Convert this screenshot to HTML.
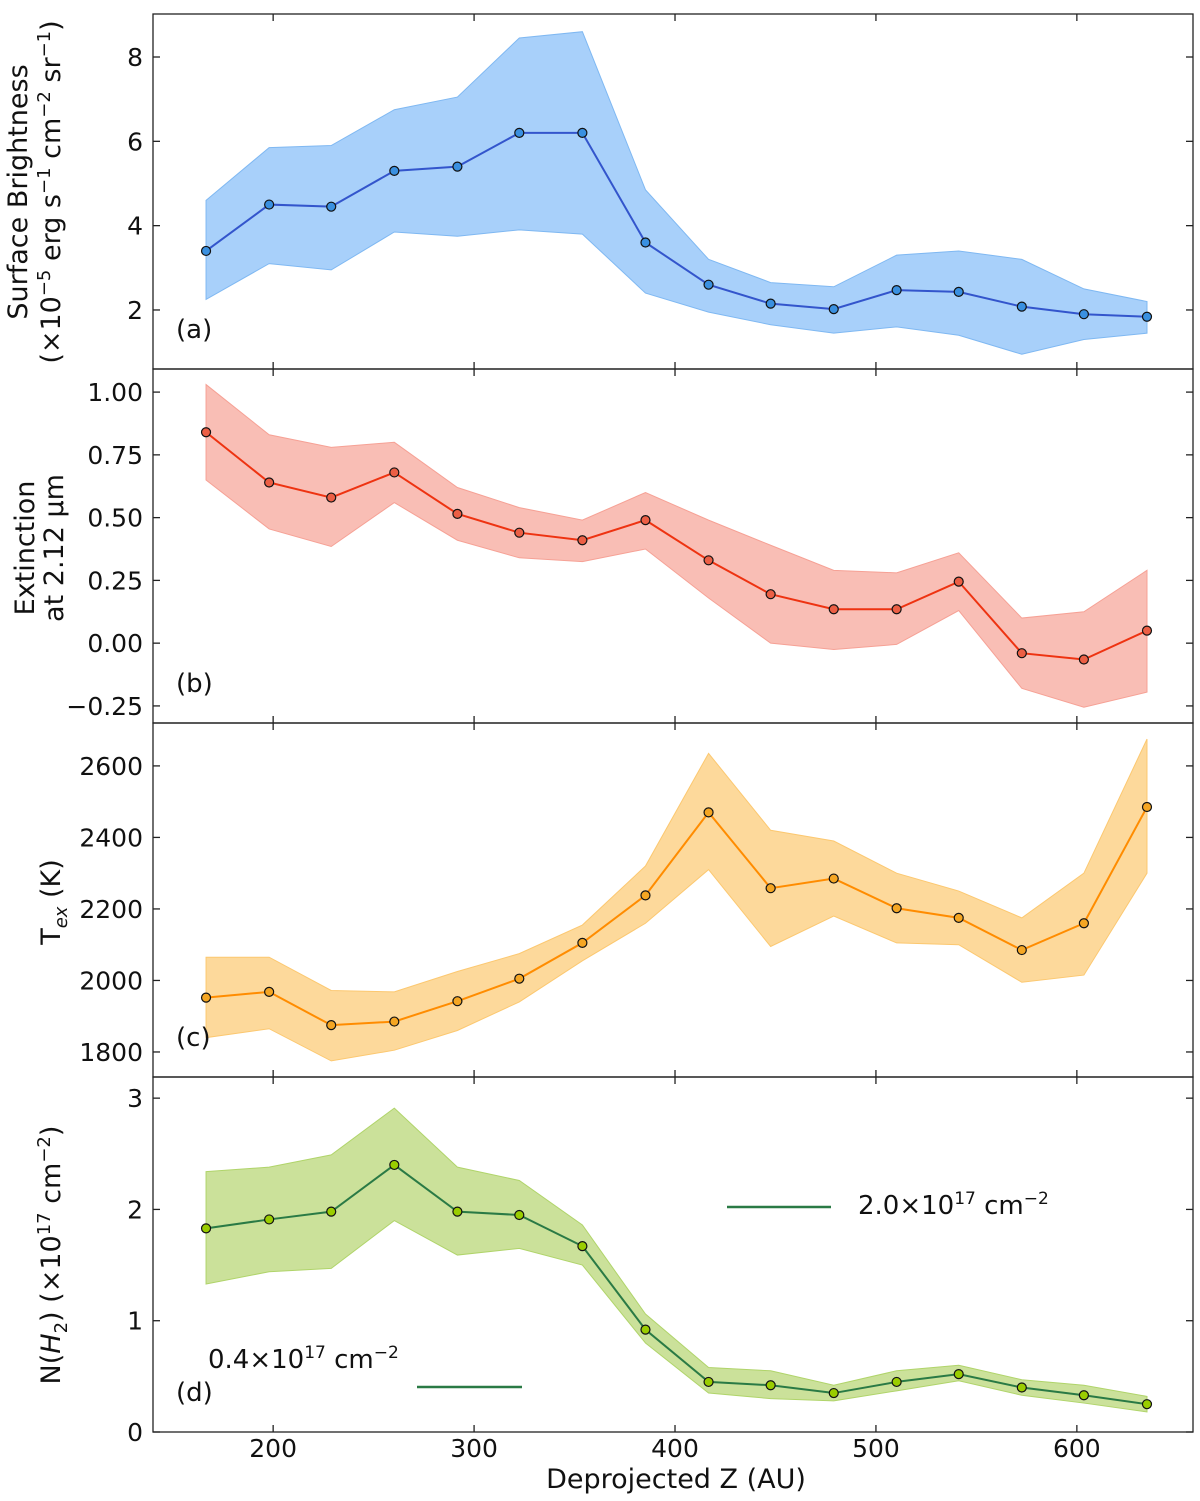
<!DOCTYPE html>
<html><head><meta charset="utf-8">
<style>
html,body{margin:0;padding:0;background:#fff;}
svg{display:block;font-family:"DejaVu Sans","Liberation Sans",sans-serif;}
</style></head>
<body>
<svg id="chart" width="1200" height="1501" viewBox="0 0 1200 1501" xmlns="http://www.w3.org/2000/svg"></svg>
<script>
const zValues=[166.6,198,228.9,260.3,291.7,322.5,353.9,385.3,416.7,447.6,479,510.3,541.2,572.6,603.5,634.9];
const xTicks=[200,300,400,500,600];
const sbVal=[3.4,4.5,4.45,5.3,5.4,6.2,6.2,3.6,2.6,2.15,2.02,2.47,2.43,2.08,1.9,1.84];
const sbUp=[4.6,5.85,5.9,6.75,7.05,8.45,8.6,4.85,3.2,2.65,2.55,3.3,3.4,3.2,2.5,2.2];
const sbLo=[2.25,3.1,2.95,3.85,3.75,3.9,3.8,2.4,1.95,1.65,1.45,1.6,1.4,0.95,1.3,1.45];
const sbTicks=[2,4,6,8];
const exVal=[0.84,0.64,0.58,0.68,0.515,0.44,0.41,0.49,0.33,0.195,0.135,0.135,0.245,-0.04,-0.065,0.05];
const exUp=[1.03,0.83,0.78,0.8,0.62,0.54,0.49,0.6,0.49,0.39,0.29,0.28,0.36,0.1,0.125,0.29];
const exLo=[0.65,0.455,0.385,0.56,0.41,0.34,0.325,0.375,0.18,0.0,-0.025,-0.005,0.13,-0.18,-0.255,-0.195];
const exTicks=[-0.25,0,0.25,0.5,0.75,1.0];
const exTickLabels=["\u22120.25","0.00","0.25","0.50","0.75","1.00"];
const tVal=[1952,1968,1875,1885,1942,2005,2105,2238,2470,2258,2285,2202,2175,2085,2160,2485];
const tUp=[2065,2065,1972,1968,2025,2075,2155,2320,2635,2420,2390,2300,2250,2175,2300,2675];
const tLo=[1840,1865,1775,1805,1860,1940,2055,2160,2310,2095,2180,2105,2100,1995,2015,2300];
const tTicks=[1800,2000,2200,2400,2600];
const nVal=[1.83,1.91,1.98,2.4,1.98,1.95,1.67,0.92,0.45,0.42,0.35,0.45,0.52,0.4,0.33,0.25];
const nUp=[2.34,2.38,2.49,2.91,2.38,2.26,1.86,1.06,0.58,0.55,0.42,0.55,0.6,0.47,0.42,0.32];
const nLo=[1.33,1.44,1.47,1.9,1.59,1.65,1.5,0.8,0.35,0.3,0.28,0.37,0.46,0.33,0.26,0.18];
const nTicks=[0,1,2,3];

const NS="http://www.w3.org/2000/svg";
const svg=document.getElementById('chart');
const L=153,R=1193,X0=140.2,X1=657.8;
function xs(v){return L+(v-X0)/(X1-X0)*(R-L);}
function mk(tag,attrs,parent){const e=document.createElementNS(NS,tag);for(const k in attrs)e.setAttribute(k,attrs[k]);(parent||svg).appendChild(e);return e;}

const panels=[
 {name:'surface-brightness',top:14,bot:369,y0:0.6,y1:9.02,val:sbVal,up:sbUp,lo:sbLo,ticks:sbTicks,labels:null,fill:'#a8d0fa',fillStroke:'#7fb8f2',line:'#3355cc',mark:'#3a90e0',tag:'(a)'},
 {name:'extinction',top:369,bot:723,y0:-0.318,y1:1.092,val:exVal,up:exUp,lo:exLo,ticks:exTicks,labels:exTickLabels,fill:'#f9beb5',fillStroke:'#f6a195',line:'#ee3311',mark:'#ec5f45',tag:'(b)'},
 {name:'excitation-temperature',top:723,bot:1077,y0:1730,y1:2720,val:tVal,up:tUp,lo:tLo,ticks:tTicks,labels:null,fill:'#fdd99b',fillStroke:'#fcc870',line:'#ff8c00',mark:'#f5a623',tag:'(c)'},
 {name:'column-density',top:1077,bot:1432,y0:0,y1:3.19,val:nVal,up:nUp,lo:nLo,ticks:nTicks,labels:null,fill:'#cbe19a',fillStroke:'#b0d46a',line:'#2a7a45',mark:'#9acd00',tag:'(d)'}
];

panels.forEach((p,pi)=>{
  const g=mk('g',{});
  
  
  const ys=v=>p.bot-(v-p.y0)/(p.y1-p.y0)*(p.bot-p.top);
  let pts=zValues.map((z,i)=>xs(z)+','+ys(p.up[i]));
  for(let i=zValues.length-1;i>=0;i--)pts.push(xs(zValues[i])+','+ys(p.lo[i]));
  const band=mk('polygon',{points:pts.join(' '),fill:p.fill,stroke:p.fillStroke,'stroke-width':1},g);
  
  
  const line=mk('polyline',{points:zValues.map((z,i)=>xs(z)+','+ys(p.val[i])).join(' '),fill:'none',stroke:p.line,'stroke-width':2},g);
  
  
  zValues.forEach((z,i)=>{
    const c=mk('circle',{cx:xs(z),cy:ys(p.val[i]),r:4.5,fill:p.mark,stroke:'#111','stroke-width':1.2},g);
    
    
  });
  const fr=mk('rect',{x:L,y:p.top,width:R-L,height:p.bot-p.top,fill:'none',stroke:'#222','stroke-width':1.3},g);
  
  
  p.ticks.forEach((t,i)=>{
    const y=ys(t);
    mk('line',{x1:L,x2:L+7,y1:y,y2:y,stroke:'#222','stroke-width':1.3},g);
    mk('line',{x1:R,x2:R-7,y1:y,y2:y,stroke:'#222','stroke-width':1.3},g);
    const tx=mk('text',{x:L-10,y:y+9,'text-anchor':'end','font-size':25,fill:'#111'},g);
    tx.textContent=p.labels?p.labels[i]:String(t);
    
    
  });
  xTicks.forEach(t=>{
    const x=xs(t);
    mk('line',{x1:x,x2:x,y1:p.bot,y2:p.bot-7,stroke:'#222','stroke-width':1.3},g);
    mk('line',{x1:x,x2:x,y1:p.top,y2:p.top+7,stroke:'#222','stroke-width':1.3},g);
  });
  const tg=mk('text',{x:176,y:p.bot-31,'font-size':26,fill:'#111'},g);
  tg.textContent=p.tag;
  
  
});

xTicks.forEach(t=>{
  const tx=mk('text',{x:xs(t),y:1457,'text-anchor':'middle','font-size':25,fill:'#111'});
  tx.textContent=String(t);
  
  
});
</script>
<svg style="position:absolute;left:0;top:0" width="1200" height="1501" xmlns="http://www.w3.org/2000/svg" font-family="DejaVu Sans, Liberation Sans, sans-serif">
  <text x="676" y="1488" text-anchor="middle" font-size="27" fill="#111">Deprojected Z (AU)</text>
  <text transform="translate(27,192) rotate(-90)" text-anchor="middle" font-size="27" fill="#111">Surface Brightness</text>
  <text transform="translate(60,192) rotate(-90)" text-anchor="middle" font-size="27" fill="#111">(×10<tspan dy="-10" font-size="18">−5</tspan><tspan dy="10"> erg s</tspan><tspan dy="-10" font-size="18">−1</tspan><tspan dy="10"> cm</tspan><tspan dy="-10" font-size="18">−2</tspan><tspan dy="10"> sr</tspan><tspan dy="-10" font-size="18">−1</tspan><tspan dy="10">)</tspan></text>
  <text transform="translate(34,548) rotate(-90)" text-anchor="middle" font-size="27" fill="#111">Extinction</text>
  <text transform="translate(63,548) rotate(-90)" text-anchor="middle" font-size="27" fill="#111">at 2.12 μm</text>
  <text transform="translate(60,902) rotate(-90)" text-anchor="middle" font-size="27" fill="#111">T<tspan dy="7" font-size="18" font-style="italic">ex</tspan><tspan dy="-7"> (K)</tspan></text>
  <text transform="translate(60,1255) rotate(-90)" text-anchor="middle" font-size="27" fill="#111">N(<tspan font-style="italic">H</tspan><tspan dy="7" font-size="18">2</tspan><tspan dy="-7">) (×10</tspan><tspan dy="-10" font-size="18">17</tspan><tspan dy="10"> cm</tspan><tspan dy="-10" font-size="18">−2</tspan><tspan dy="10">)</tspan></text>
  <line x1="727" x2="831" y1="1207" y2="1207" stroke="#2a7a45" stroke-width="2.5"/>
  <text x="858" y="1214" font-size="26" fill="#111">2.0×10<tspan dy="-10" font-size="17">17</tspan><tspan dy="10"> cm</tspan><tspan dy="-10" font-size="17">−2</tspan></text>
  <line x1="417" x2="522" y1="1387" y2="1387" stroke="#2a7a45" stroke-width="2.5"/>
  <text x="208" y="1368" font-size="26" fill="#111">0.4×10<tspan dy="-10" font-size="17">17</tspan><tspan dy="10"> cm</tspan><tspan dy="-10" font-size="17">−2</tspan></text>
</svg>
</body></html>
